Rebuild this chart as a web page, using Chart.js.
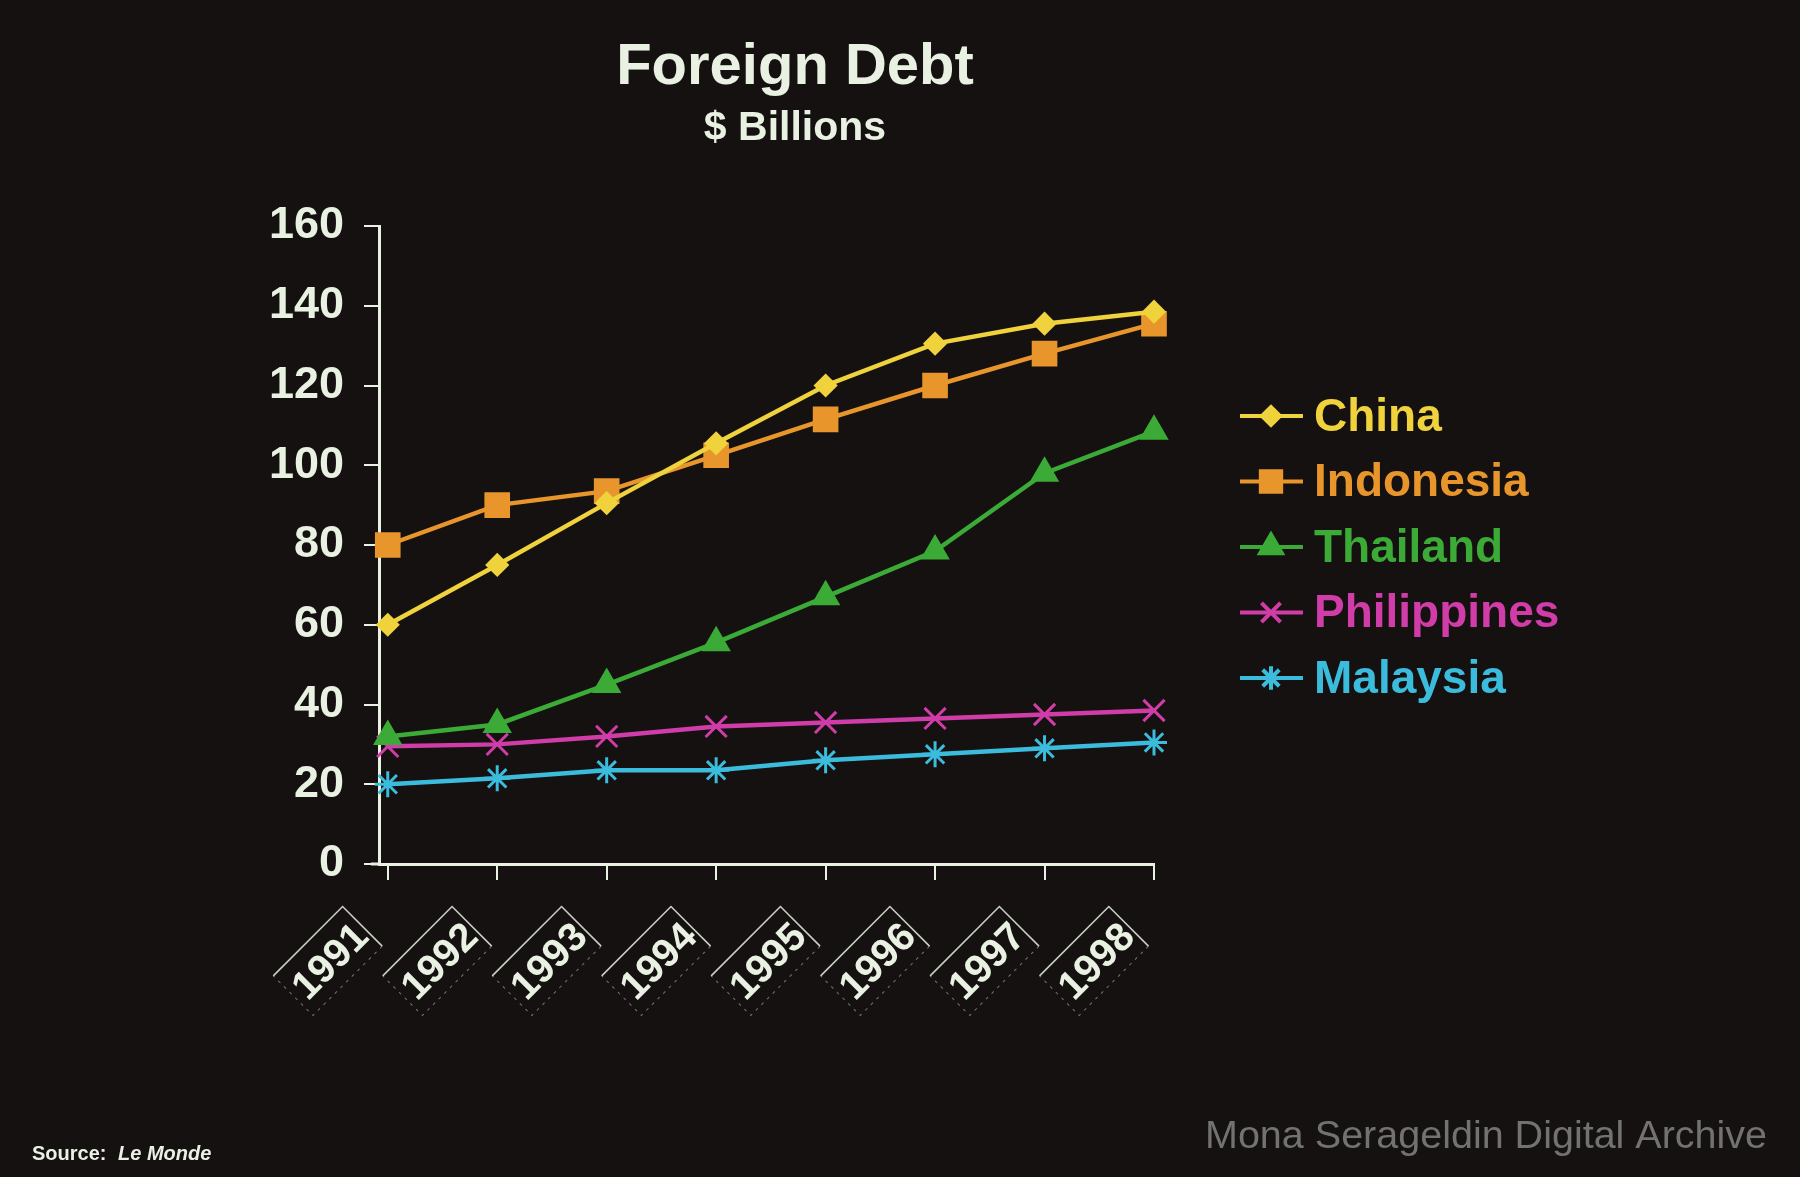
<!DOCTYPE html>
<html>
<head>
<meta charset="utf-8">
<script src="https://cdn.jsdelivr.net/npm/chart.js@4.4.1/dist/chart.umd.min.js"></script>
<style>
  html, body { margin: 0; padding: 0; background: #141110; }
  #wrap { width: 1800px; height: 1177px; }
</style>
</head>
<body>
<div id="wrap"><canvas id="debtChart" width="1800" height="1177"></canvas></div>
<script>
// data
const years = [1991, 1992, 1993, 1994, 1995, 1996, 1997, 1998];
const china       = [60, 75, 90.5, 105.5, 120, 130.5, 135.5, 138.5];
const indonesia   = [80, 90, 93.5, 102.5, 111.5, 120, 128, 135.5];
const thailand    = [32, 35, 45, 55.5, 67, 78.5, 98, 108.5];
const philippines = [29.5, 30, 32, 34.5, 35.5, 36.5, 37.5, 38.5];
const malaysia    = [20, 21.5, 23.5, 23.5, 26, 27.5, 29, 30.5];
const yTicks = [0, 20, 40, 60, 80, 100, 120, 140, 160];

const INK = "#e8f1e2";
const FONT = "'Liberation Sans', Arial, sans-serif";

function series(label, values, color, style, radius) {
    return {
        label: label,
        data: years.map((y, i) => ({ x: y, y: values[i] })),
        borderColor: color,
        backgroundColor: color,
        pointBackgroundColor: color,
        pointBorderColor: color,
        borderWidth: 4.5,
        pointStyle: style,
        pointRadius: radius,
        pointBorderWidth: 3,
        tension: 0,
        clip: false
    };
}

const datasets = [
    series("China", china, "#f0d23c", "rectRot", 10),
    series("Indonesia", indonesia, "#e8962c", "rect", 16),
    series("Thailand", thailand, "#3caa36", "triangle", 14),
    series("Philippines", philippines, "#d03ca8", "crossRot", 15),
    series("Malaysia", malaysia, "#3cbcdc", "star", 13)
];

// slanted frames behind the year labels
const yearFrames = {
    id: "yearFrames",
    afterDraw(chart) {
        const c = chart.ctx;
        const xs = chart.scales.x;
        const axisY = chart.chartArea.bottom;
        c.save();
        c.strokeStyle = INK;
        // stub of the x axis left of the y axis
        c.lineWidth = 3;
        c.beginPath();
        c.moveTo(371, axisY);
        c.lineTo(381, axisY);
        c.stroke();
        years.forEach(v => {
            const cx = xs.getPixelForValue(v) - 60;
            const cy = axisY + 97;
            c.save();
            c.translate(cx, cy);
            c.rotate(-Math.PI / 4);
            const hw = 49, hh = 28;
            c.lineWidth = 1.6;
            c.globalAlpha = 0.85;
            c.setLineDash([]);
            c.beginPath();
            c.moveTo(-hw, -hh);
            c.lineTo(hw, -hh);
            c.lineTo(hw, hh);
            c.stroke();
            c.globalAlpha = 0.45;
            c.lineWidth = 1;
            c.setLineDash([3, 5]);
            c.beginPath();
            c.moveTo(hw, hh);
            c.lineTo(-hw, hh);
            c.lineTo(-hw, -hh);
            c.stroke();
            c.restore();
        });
        c.restore();
    }
};

// titles, legend, source line
const slideText = {
    id: "slideText",
    afterDraw(chart) {
        const c = chart.ctx;
        c.save();
        c.fillStyle = INK;
        c.textAlign = "center";
        c.textBaseline = "alphabetic";
        c.font = "bold 58px " + FONT;
        c.fillText("Foreign Debt", 795, 84);
        c.font = "bold 41px " + FONT;
        c.fillText("$ Billions", 795, 140);

        // legend
        chart.data.datasets.forEach((ds, i) => {
            const y = 416 + i * 65.5;
            c.strokeStyle = ds.borderColor;
            c.lineWidth = 4;
            c.beginPath();
            c.moveTo(1240, y);
            c.lineTo(1303, y);
            c.stroke();
            c.fillStyle = ds.borderColor;
            Chart.helpers.drawPoint(c, {
                pointStyle: ds.pointStyle, radius: ds.pointRadius * 0.9,
                borderWidth: 3, rotation: 0
            }, 1271, y);
            c.textAlign = "left";
            c.textBaseline = "middle";
            c.font = "bold 46px " + FONT;
            c.fillText(ds.label, 1314, y + 2);
        });

        // source + archive
        c.textAlign = "left";
        c.textBaseline = "alphabetic";
        c.fillStyle = INK;
        c.font = "bold 20px " + FONT;
        c.fillText("Source:", 32, 1160);
        c.font = "italic bold 20px " + FONT;
        c.fillText("Le Monde", 118, 1160);
        c.fillStyle = "#727272";
        c.font = "39.5px " + FONT;
        c.fillText("Mona Serageldin Digital Archive", 1205, 1148);
        c.restore();
    }
};

new Chart(document.getElementById("debtChart"), {
    type: "line",
    data: { datasets: datasets },
    options: {
        responsive: false,
        animation: false,
        layout: { padding: { left: 0, top: 226, right: 646, bottom: 0 } },
        plugins: { legend: { display: false }, tooltip: { enabled: false } },
        scales: {
            x: {
                type: "linear",
                min: 1990.92,
                max: 1998,
                afterBuildTicks: s => { s.ticks = years.map(v => ({ value: v })); },
                afterFit: s => { s.height = 313; },
                grid: { drawOnChartArea: false, color: INK, tickLength: 16, lineWidth: 2 },
                border: { color: INK, width: 3 },
                ticks: {
                    color: INK, minRotation: 45, maxRotation: 45, padding: 34,
                    labelOffset: -25,
                    font: { family: FONT, size: 40, weight: "bold" },
                    callback: v => String(v)
                }
            },
            y: {
                min: 0,
                max: 160,
                afterBuildTicks: s => { s.ticks = yTicks.map(v => ({ value: v })); },
                afterFit: s => { s.width = 379; },
                grid: { drawOnChartArea: false, color: INK, tickLength: 15, lineWidth: 2 },
                border: { color: INK, width: 3 },
                ticks: {
                    color: INK, padding: 20,
                    font: { family: FONT, size: 45, weight: "bold" }
                }
            }
        }
    },
    plugins: [yearFrames, slideText]
});
</script>
</body>
</html>
